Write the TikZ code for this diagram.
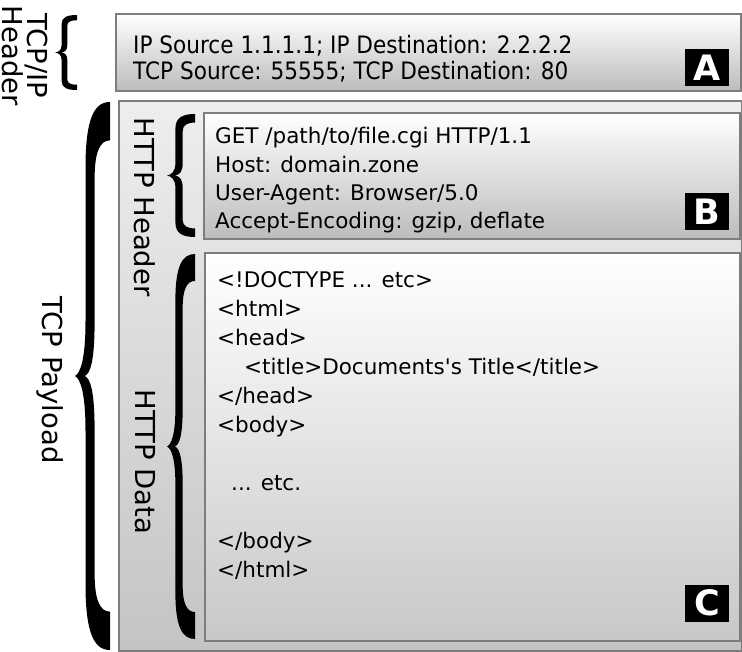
\documentclass[tikz,border=0pt]{standalone}
\usepackage{fontspec}
\setmainfont{DejaVu Sans}
\newfontfamily\bodyfont{DejaVu Sans}
\newfontfamily\condfont[FakeStretch=0.9]{DejaVu Sans}
\definecolor{boxline}{RGB}{125,125,125}
\definecolor{shadeA}{RGB}{188,188,188}
\definecolor{shadeOuterTop}{RGB}{238,238,238}
\definecolor{shadeOuterBot}{RGB}{196,196,196}
\definecolor{shadeC}{RGB}{200,200,200}
\newcommand\mybrace[4]{%
  \fill[black, shift={(#1,#3)}, xscale={#2-#1}, yscale={#4-#3}]
    (1,0) .. controls (0.55,0) and (0.30,0.03) .. (0.30,0.12)
    -- (0.30,0.40)
    .. controls (0.30,0.47) and (0.15,0.495) .. (0,0.5)
    .. controls (0.15,0.505) and (0.30,0.53) .. (0.30,0.60)
    -- (0.30,0.88)
    .. controls (0.30,0.97) and (0.55,1) .. (1,1)
    -- (1,0.93)
    .. controls (0.72,0.93) and (0.56,0.91) .. (0.56,0.86)
    -- (0.56,0.60)
    .. controls (0.56,0.53) and (0.45,0.505) .. (0.28,0.5)
    .. controls (0.45,0.495) and (0.56,0.47) .. (0.56,0.40)
    -- (0.56,0.14)
    .. controls (0.56,0.09) and (0.72,0.07) .. (1,0.07)
    -- cycle;}
\begin{document}
\begin{tikzpicture}[x=1pt,y=-1pt,
  box/.style={draw=boxline, line width=1.6pt, inner sep=0, anchor=north west},
  badge/.style={fill=black, text=white, inner sep=0, minimum width=44, minimum height=37,
    font=\bodyfont\bfseries\fontsize{35}{36}\selectfont},
  sidelabel/.style={rotate=-90, align=center, inner sep=0, font=\bodyfont\fontsize{27.5}{25}\selectfont},
  body/.style={anchor=north west, align=left, inner sep=0}]
\useasboundingbox (0,0) rectangle (742,652);
% boxes
\node[box, minimum width=625, minimum height=77, top color=white, middle color=white!92!black, bottom color=shadeA] (boxA) at (115,13) {};
\node[box, minimum width=623, minimum height=550, top color=shadeOuterTop, bottom color=shadeOuterBot] (outer) at (118,100) {};
\node[box, minimum width=536, minimum height=126, top color=white, middle color=white!94!black, bottom color=shadeA] (boxB) at (203,112) {};
\node[box, minimum width=535, minimum height=388, top color=white, bottom color=shadeC] (boxC) at (204,252) {};
% braces
\mybrace{55}{77}{15}{90}
\mybrace{75}{110}{102}{650}
\mybrace{167}{195}{114}{237}
\mybrace{167}{195}{254}{639}
% side labels
\node[sidelabel] (tcpiplab) at (25,56) {TCP/IP\\Header};
\node[sidelabel] (paylab) at (50,380) {TCP Payload};
\node[sidelabel] (hhlab) at (145,207) {HTTP Header};
\node[sidelabel] (hdlab) at (145,462) {HTTP Data};
% texts
\node[body, font=\condfont\fontsize{24}{26}\selectfont] (textA) at (133,35.5)
  {IP Source 1.1.1.1; IP Destination: 2.2.2.2\\TCP Source: 55555; TCP Destination: 80};
\node[body, font=\bodyfont\fontsize{21.5}{28.3}\selectfont] (textB) at (215,127.3)
  {GET /path/to/file.cgi HTTP/1.1\\Host: domain.zone\\User-Agent: Browser/5.0\\Accept-Encoding: gzip, deflate};
\node[body, font=\bodyfont\fontsize{21.5}{29}\selectfont] (textC) at (217,271.5)
  {<!DOCTYPE ... etc>\\<html>\\<head>\\\hspace*{27pt}<title>Documents's Title</title>\\</head>\\<body>\\\mbox{}\\\hspace*{14pt}... etc.\\\mbox{}\\</body>\\</html>};
% badges
\node[badge] (badgeA) at (707,68) {A};
\node[badge] (badgeB) at (707,212) {B};
\node[badge] (badgeC) at (707,603) {C};
\end{tikzpicture}
\end{document}
